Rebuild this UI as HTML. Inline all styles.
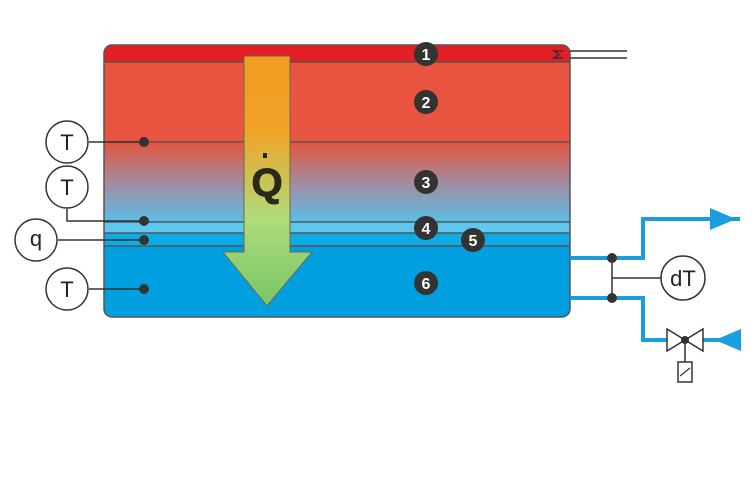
<!DOCTYPE html>
<html><head><meta charset="utf-8"><style>html,body{margin:0;padding:0;background:#fff}svg{display:block}text{font-family:"Liberation Sans",sans-serif}</style></head><body>
<svg width="755" height="488" viewBox="0 0 755 488" xmlns="http://www.w3.org/2000/svg">
<defs>
<linearGradient id="g3" x1="0" y1="0" x2="0" y2="1">
<stop offset="0" stop-color="#e4553f"/><stop offset="0.5" stop-color="#a48a9c"/><stop offset="1" stop-color="#5cbde9"/></linearGradient>
<linearGradient id="ga" x1="0" y1="0" x2="0" y2="1">
<stop offset="0" stop-color="#f29a22"/><stop offset="0.3" stop-color="#f0a328"/><stop offset="0.65" stop-color="#aedc7a"/><stop offset="1" stop-color="#78c46a"/></linearGradient>
<clipPath id="c"><rect x="104" y="45" width="466" height="272" rx="8"/></clipPath>
</defs>
<g clip-path="url(#c)">
<rect x="104" y="45" width="466" height="17" fill="#e31e24"/>
<rect x="104" y="62" width="466" height="80" fill="#e8543f"/>
<rect x="104" y="142" width="466" height="80" fill="url(#g3)"/>
<rect x="104" y="222" width="466" height="11" fill="#5ec8ef"/>
<rect x="104" y="233" width="466" height="13" fill="#0fabe6"/>
<rect x="104" y="246" width="466" height="71" fill="#009fe0"/>
</g>
<g stroke="#555" stroke-width="1.5" fill="none">
<rect x="104" y="45" width="466" height="272" rx="8"/>
<line x1="104" y1="62" x2="570" y2="62"/>
<line x1="104" y1="142" x2="570" y2="142"/>
<line x1="104" y1="222" x2="570" y2="222"/>
<line x1="104" y1="233" x2="570" y2="233"/>
<line x1="104" y1="246" x2="570" y2="246"/>
</g>
<path d="M244 56H290V252H312L267 306L223 252H244Z" fill="url(#ga)" stroke="#6a6a4a" stroke-width="1"/>
<text x="267" y="196" font-size="40" font-weight="bold" text-anchor="middle" fill="#2a2a1a" stroke="#2a2a1a" stroke-width="1">Q</text>
<rect x="263" y="153" width="4" height="5" fill="#222"/>
<g fill="#333">
<circle cx="426" cy="54" r="12"/><circle cx="426" cy="102" r="12"/><circle cx="426" cy="182" r="12"/><circle cx="426" cy="228" r="12"/><circle cx="473" cy="240" r="12"/><circle cx="426" cy="283" r="12"/>
</g>
<g fill="#fff" font-size="16" font-weight="bold" text-anchor="middle">
<text x="426" y="60">1</text><text x="426" y="108">2</text><text x="426" y="188">3</text><text x="426" y="234">4</text><text x="473" y="246">5</text><text x="426" y="289">6</text>
</g>
<g stroke="#333" stroke-width="1.5" fill="none">
<line x1="89" y1="142" x2="144" y2="142"/>
<path d="M67 209V221H144"/>
<line x1="58" y1="240" x2="144" y2="240"/>
<line x1="89" y1="289" x2="144" y2="289"/>
<line x1="570" y1="51" x2="627" y2="51"/><line x1="570" y1="58" x2="627" y2="58"/>
<path d="M563 51H554L559 54.5L554 58H563"/>
</g>
<g fill="#fff" stroke="#333" stroke-width="1.5">
<circle cx="67" cy="142" r="21"/><circle cx="67" cy="187" r="21"/><circle cx="36" cy="240" r="21"/><circle cx="67" cy="289" r="21"/><circle cx="683" cy="278" r="22"/>
</g>
<g font-size="22" text-anchor="middle" fill="#222">
<text x="67" y="150">T</text><text x="67" y="195">T</text><text x="36" y="246">q</text><text x="67" y="297">T</text><text x="683" y="286">dT</text>
</g>
<g fill="#333"><circle cx="144" cy="142" r="5"/><circle cx="144" cy="221" r="5"/><circle cx="144" cy="240" r="5"/><circle cx="144" cy="289" r="5"/></g>
<g stroke="#1a9ee0" stroke-width="4" fill="none">
<path d="M570 258H643V219H740"/>
<path d="M570 298H643V340H740"/>
</g>
<path d="M710 208L736 219L710 230Z" fill="#1a9ee0"/>
<path d="M741 329L715 340L741 351Z" fill="#1a9ee0"/>
<path d="M667 329V351L685 340L703 351V329L685 340Z" fill="#fff" stroke="#333" stroke-width="1.5"/>
<line x1="685" y1="340" x2="685" y2="362" stroke="#333" stroke-width="1.5"/>
<rect x="678" y="362" width="14" height="20" fill="#fff" stroke="#333" stroke-width="1.5"/>
<line x1="680" y1="376" x2="690" y2="368" stroke="#333" stroke-width="1.2"/>
<circle cx="685" cy="340" r="4" fill="#333"/>
<g stroke="#333" stroke-width="1.5"><line x1="612" y1="258" x2="612" y2="298"/><line x1="612" y1="278" x2="661" y2="278"/></g>
<g fill="#333"><circle cx="612" cy="258" r="5"/><circle cx="612" cy="298" r="5"/></g>
</svg>
</body></html>
